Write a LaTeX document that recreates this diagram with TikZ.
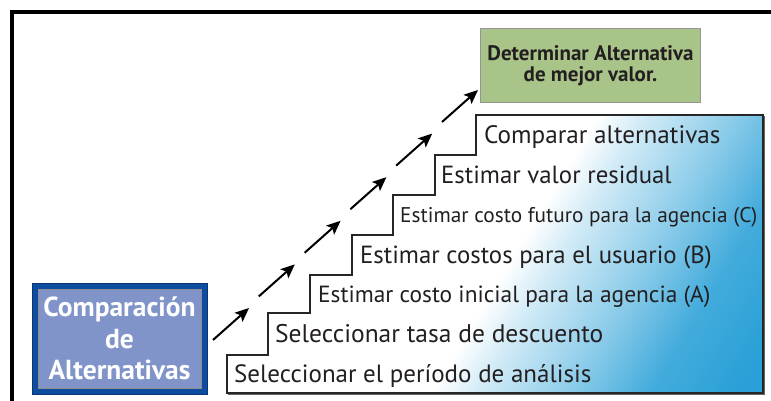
\documentclass[tikz,border=0pt]{standalone}
\usepackage{fontspec}
\setmainfont{PT Sans}
\usetikzlibrary{arrows.meta}
\definecolor{sblue}{RGB}{41,160,215}
\definecolor{gfill}{RGB}{169,196,137}
\definecolor{gline}{RGB}{150,150,150}
\definecolor{bfill}{RGB}{128,148,202}
\definecolor{bline}{RGB}{14,76,160}
\definecolor{tdark}{RGB}{35,31,32}
\pgfdeclarehorizontalshading{stairshade}{100bp}{color(0bp)=(white); color(51.3bp)=(white); color(54.4bp)=(sblue!20); color(61.2bp)=(sblue!56); color(66.5bp)=(sblue!88); color(72.5bp)=(sblue); color(100bp)=(sblue)}
\tikzset{
  steptext/.style={anchor=base west, inner sep=0pt, text=tdark, font=\fontsize{24.8}{25}\selectfont},
  upar/.style={line width=2pt, -{Stealth[length=14pt,width=12pt,inset=3pt]}},
}
\begin{document}
\begin{tikzpicture}[x=1pt,y=-1pt]
\useasboundingbox (0,0) rectangle (771,401);
\fill[white] (0,0) rectangle (771,401);
% outer frame
\draw[line width=4pt] (12,405) -- (12,12) -- (775,12);
% staircase
\begin{scope}
\clip (227,393) -- (227,355) -- (268,355) -- (268,313) -- (310,313) -- (310,275) -- (352,275) -- (352,235)
  -- (393,235) -- (393,195) -- (435,195) -- (435,155) -- (476,155) -- (476,115) -- (763,115) -- (763,393) -- cycle;
\shade[shading=stairshade, shading angle=-31] (185,-56) rectangle (805,564);
\end{scope}
\draw[line width=1.6pt, draw=black!85, line join=miter]
  (227,393) -- (227,355) -- (268,355) -- (268,313) -- (310,313) -- (310,275) -- (352,275) -- (352,235)
  -- (393,235) -- (393,195) -- (435,195) -- (435,155) -- (476,155) -- (476,115) -- (763,115) -- (763,393) -- cycle;
\draw[line width=1pt, draw=black!60] (764.5,116) -- (764.5,394.5) -- (228,394.5);
% step texts
\node[steptext, font=\fontsize{25}{25}\selectfont] (s1) at (234,382) {Seleccionar el período de análisis};
\node[steptext, font=\fontsize{25.5}{25}\selectfont] (s2) at (275,342) {Seleccionar tasa de descuento};
\node[steptext, font=\fontsize{23.4}{24}\selectfont] (s3) at (318,302) {Estimar costo inicial para la agencia (A)};
\node[steptext] (s4) at (360,263) {Estimar costos para el usuario (B)};
\node[steptext, font=\fontsize{21.3}{21}\selectfont] (s5) at (400,222.5) {Estimar costo futuro para la agencia (C)};
\node[steptext] (s6) at (441,183) {Estimar valor residual};
\node[steptext, font=\fontsize{25.2}{25}\selectfont] (s7) at (484,143) {Comparar alternativas};
% green box
\node[draw=gline, line width=1.5pt, fill=gfill, minimum width=220pt, minimum height=74pt, align=center,
  text=tdark, font=\fontsize{21}{20.5}\selectfont\bfseries] (goal) at (590.5,65.5) {Determinar Alternativa\\de mejor valor.};
% blue box
\node[fill=bline, draw=bline!70!black, line width=0.8pt, minimum width=175pt, minimum height=111pt] (srcout) at (119.5,338.5) {};
\node[fill=bfill, draw=black!45, line width=0.8pt, minimum width=163pt, minimum height=99pt, align=center,
  text=white, font=\fontsize{27.5}{31.5}\selectfont\bfseries] (src) at (119.5,338.5) {Comparación\\de\\Alternativas};
% arrows
\foreach \k in {0,...,5}{
  \coordinate (a\k) at ({213+45.8*\k},{340-43.6*\k});
  \coordinate (b\k) at ({249+45.8*\k},{308-43.6*\k});
  \draw[upar] (a\k) -- (b\k);
}
\end{tikzpicture}
\end{document}
